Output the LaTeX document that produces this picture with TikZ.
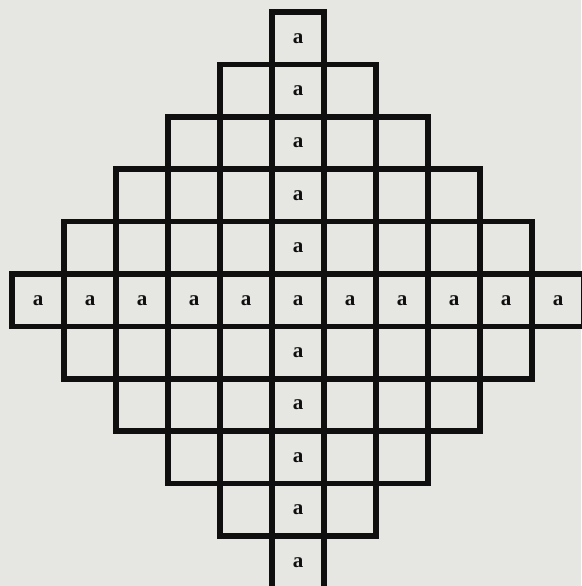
\documentclass[tikz,border=0pt]{standalone}
\usepackage{fontspec}
\setmainfont{Liberation Serif}
\definecolor{paper}{HTML}{E6E6E3}
\definecolor{ink}{HTML}{0F0F0F}
\begin{document}
\begin{tikzpicture}[x=1pt,y=-1pt,
  cell/.style={draw=ink,line width=5.5pt,minimum width=52pt,minimum height=52.4pt,
    inner sep=0pt,text=ink,font=\fontsize{21}{21}\selectfont\bfseries}]
\useasboundingbox (0,0) rectangle (581,586);
\fill[paper] (0,0) rectangle (581,586);
\foreach \r in {0,...,10}{
  \pgfmathtruncatemacro\w{5-abs(\r-5)}
  \pgfmathtruncatemacro\lo{5-\w}
  \pgfmathtruncatemacro\hi{5+\w}
  \foreach \c in {\lo,...,\hi}{
    \pgfmathtruncatemacro\isa{(\c==5)||(\r==5)}
    \node[cell] (c-\r-\c) at ({12+52*(\c+0.5)},{12+52.4*(\r+0.5)}) {\ifnum\isa=1 a\fi};
  }
}
\end{tikzpicture}
\end{document}
